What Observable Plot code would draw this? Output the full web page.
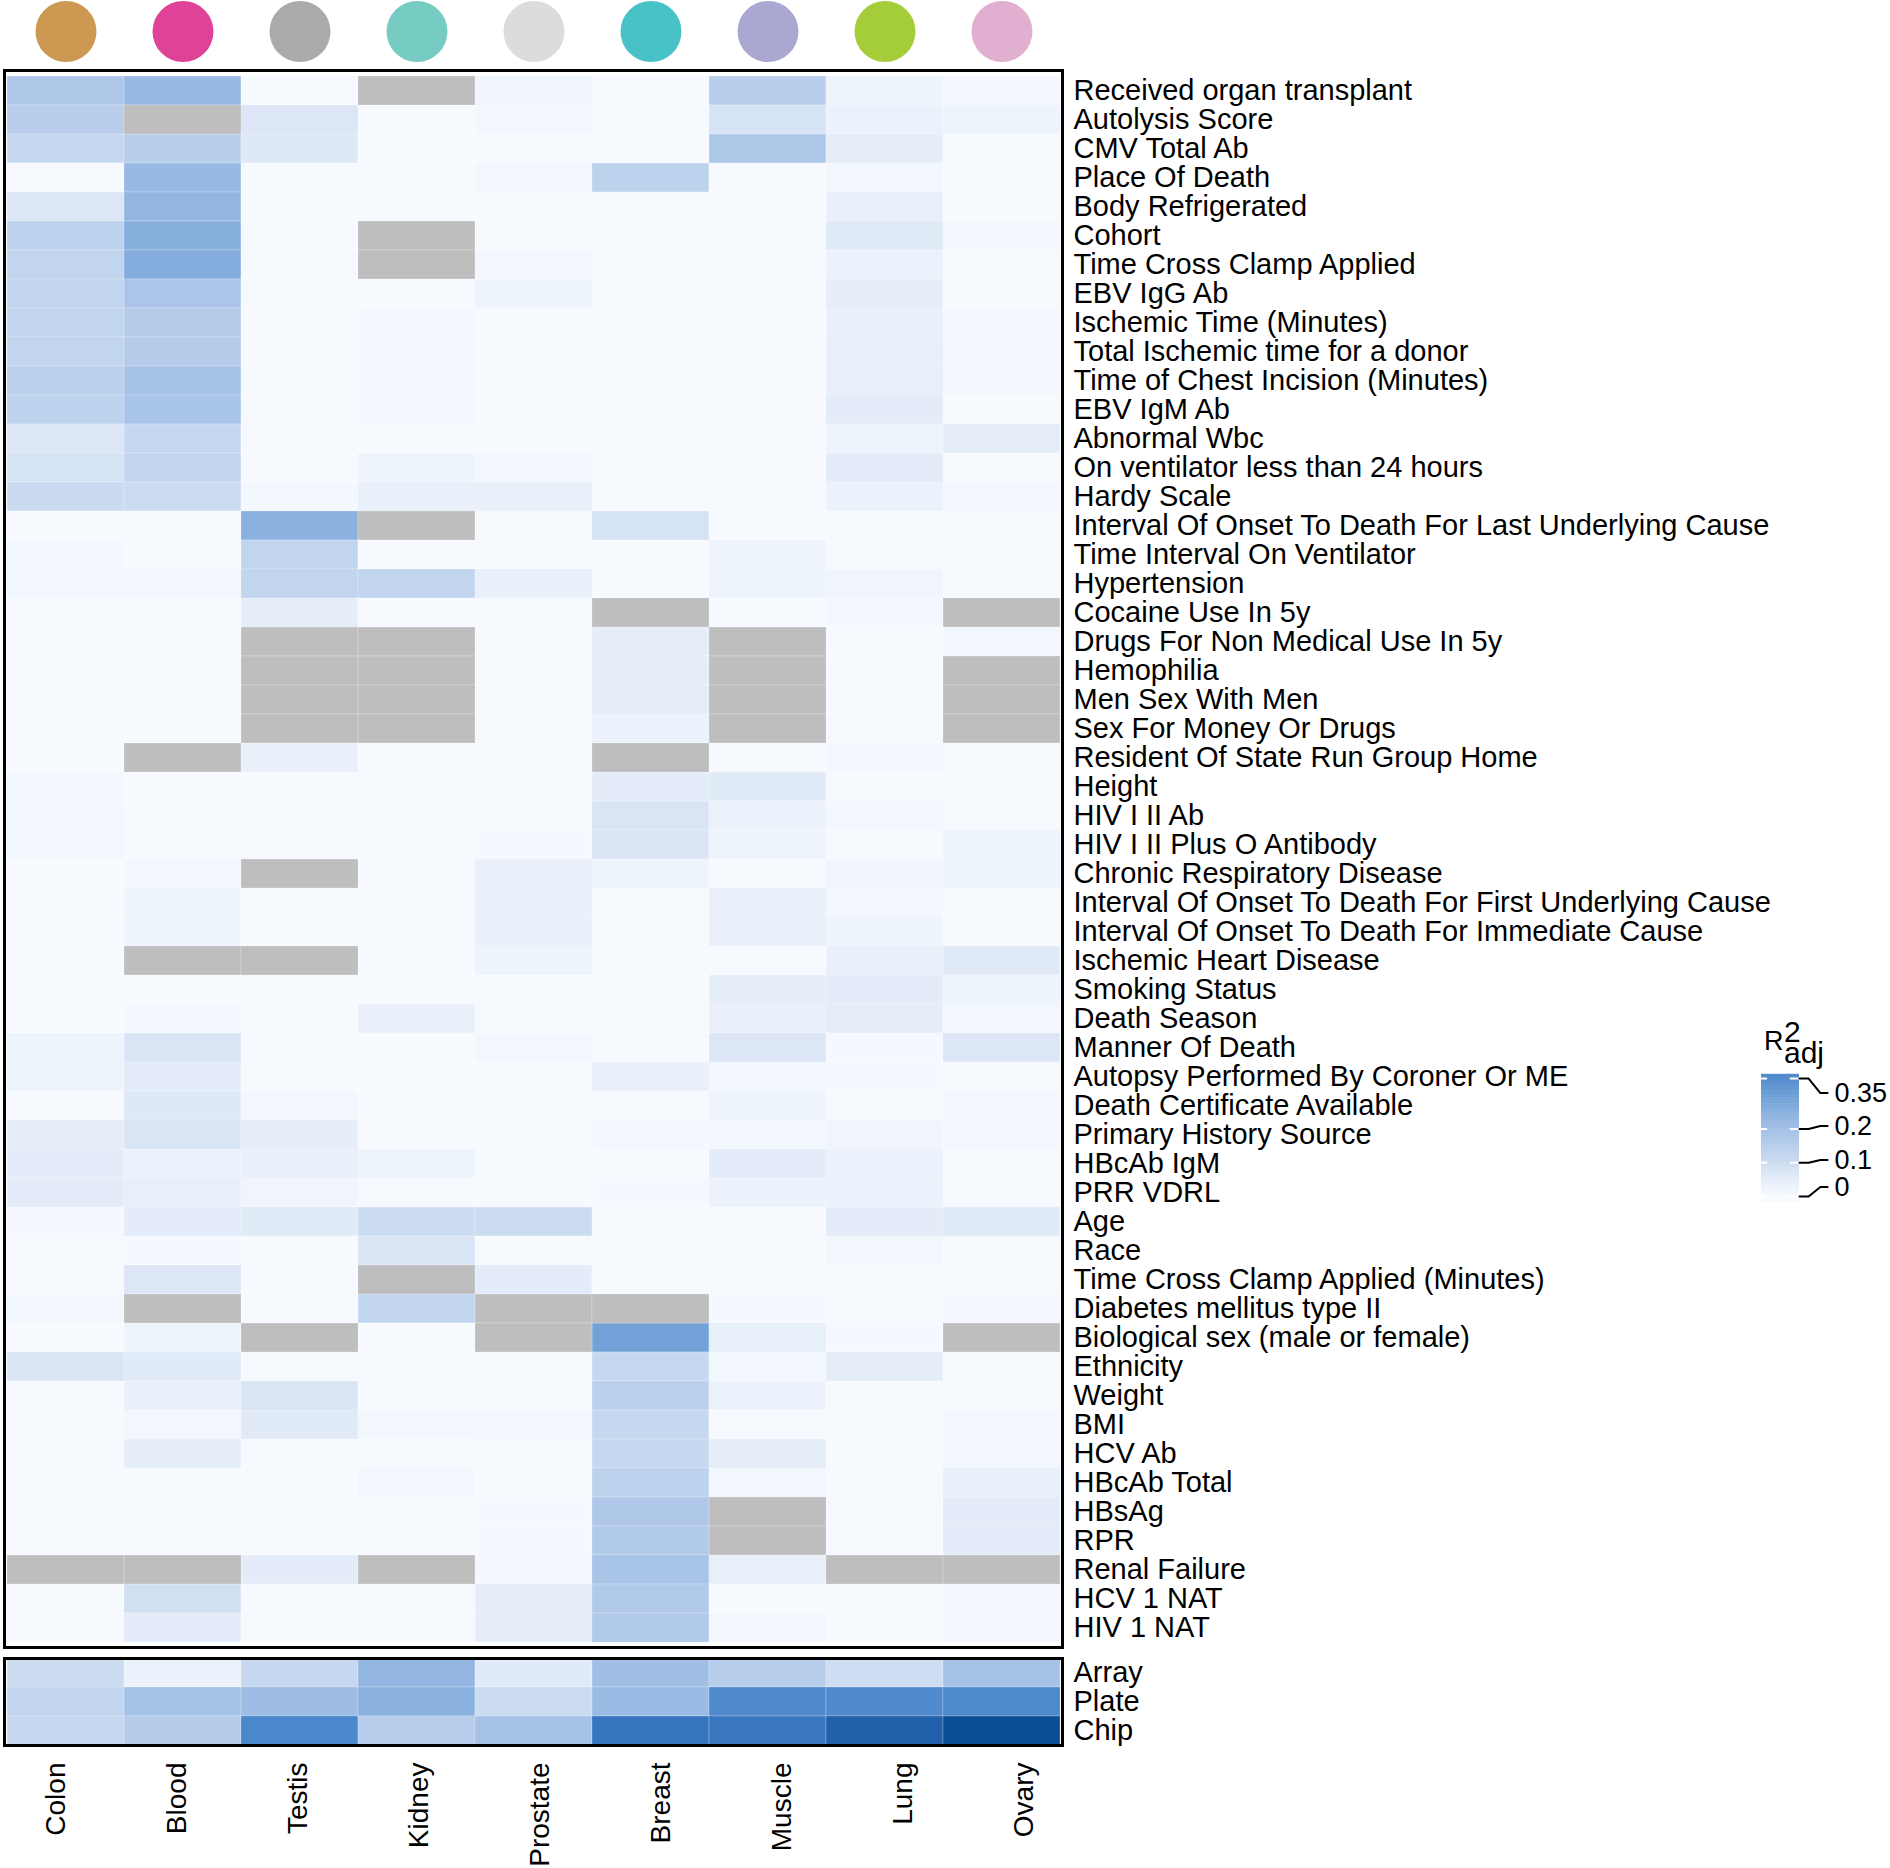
<!DOCTYPE html>
<html><head><meta charset="utf-8">
<script src="https://cdn.jsdelivr.net/npm/d3@7"></script>
<script src="https://cdn.jsdelivr.net/npm/@observablehq/plot@0.6"></script>
<style>
html,body{margin:0;padding:0;background:#fff;}
#chart{position:relative;width:1890px;height:1868px;font-family:"Liberation Sans",Arial,Helvetica,sans-serif;background:#fff;}
#chart > svg{position:absolute;}
</style></head><body><div id="chart"></div>
<script>
const tissues = ["Colon","Blood","Testis","Kidney","Prostate","Breast","Muscle","Lung","Ovary"];
const tissueColors = ["#CC9852","#DE4398","#AAAAAA","#76CBC3","#DCDCDC","#48C1C7","#ABA7D3","#A5CD39","#E1AFCF"];

const topRows = [
  "Received organ transplant","Autolysis Score","CMV Total Ab","Place Of Death","Body Refrigerated",
  "Cohort","Time Cross Clamp Applied","EBV IgG Ab","Ischemic Time (Minutes)","Total Ischemic time for a donor",
  "Time of Chest Incision (Minutes)","EBV IgM Ab","Abnormal Wbc","On ventilator less than 24 hours","Hardy Scale",
  "Interval Of Onset To Death For Last Underlying Cause","Time Interval On Ventilator","Hypertension","Cocaine Use In 5y",
  "Drugs For Non Medical Use In 5y","Hemophilia","Men Sex With Men","Sex For Money Or Drugs",
  "Resident Of State Run Group Home","Height","HIV I II Ab","HIV I II Plus O Antibody","Chronic Respiratory Disease",
  "Interval Of Onset To Death For First Underlying Cause","Interval Of Onset To Death For Immediate Cause",
  "Ischemic Heart Disease","Smoking Status","Death Season","Manner Of Death","Autopsy Performed By Coroner Or ME",
  "Death Certificate Available","Primary History Source","HBcAb IgM","PRR VDRL","Age","Race",
  "Time Cross Clamp Applied (Minutes)","Diabetes mellitus type II","Biological sex (male or female)","Ethnicity",
  "Weight","BMI","HCV Ab","HBcAb Total","HBsAg","RPR","Renal Failure","HCV 1 NAT","HIV 1 NAT"
];

const N = null; // not available (grey)
// columns: Colon, Blood, Testis, Kidney, Prostate, Breast, Muscle, Lung, Ovary
const topValues = [
  [0.15, 0.20, 0, N, 0.015, 0, 0.13, 0.02, 0.005],
  [0.13, N, 0.06, 0, 0.005, 0, 0.07, 0.025, 0.02],
  [0.10, 0.13, 0.055, 0, 0, 0, 0.155, 0.04, 0],
  [0, 0.20, 0, 0, 0.01, 0.12, 0, 0.01, 0],
  [0.06, 0.21, 0, 0, 0, 0, 0, 0.03, 0],
  [0.12, 0.23, 0, N, 0, 0, 0, 0.05, 0.01],
  [0.11, 0.235, 0, N, 0.008, 0, 0, 0.025, 0],
  [0.11, 0.16, 0, 0, 0.02, 0, 0, 0.04, 0],
  [0.11, 0.14, 0, 0.008, 0, 0, 0, 0.03, 0.008],
  [0.11, 0.14, 0, 0.008, 0, 0, 0, 0.035, 0.008],
  [0.125, 0.17, 0, 0.008, 0, 0, 0, 0.035, 0.01],
  [0.12, 0.165, 0, 0.008, 0, 0, 0, 0.045, 0],
  [0.06, 0.10, 0, 0, 0, 0, 0, 0.02, 0.04],
  [0.07, 0.105, 0, 0.02, 0.008, 0, 0, 0.045, 0],
  [0.095, 0.09, 0.008, 0.03, 0.03, 0, 0, 0.025, 0.005],
  [0, 0, 0.225, N, 0, 0.07, 0, 0, 0],
  [0.008, 0, 0.11, 0, 0, 0, 0.02, 0, 0],
  [0.008, 0.008, 0.11, 0.11, 0.03, 0, 0.02, 0.015, 0],
  [0, 0, 0.04, 0, 0, N, 0, 0.008, N],
  [0, 0, N, N, 0, 0.04, N, 0, 0.008],
  [0, 0, N, N, 0, 0.04, N, 0, N],
  [0, 0, N, N, 0, 0.04, N, 0, N],
  [0, 0, N, N, 0, 0.025, N, 0, N],
  [0, N, 0.03, 0, 0, N, 0, 0.006, 0],
  [0.006, 0, 0, 0, 0, 0.045, 0.05, 0, 0],
  [0.01, 0, 0, 0, 0, 0.065, 0.025, 0.008, 0],
  [0.01, 0, 0, 0, 0.003, 0.065, 0.02, 0, 0.02],
  [0, 0.008, N, 0, 0.03, 0.02, 0, 0.015, 0.02],
  [0, 0.02, 0, 0, 0.03, 0, 0.03, 0.008, 0],
  [0, 0.02, 0, 0, 0.03, 0, 0.03, 0.02, 0],
  [0, N, N, 0, 0.02, 0, 0, 0.03, 0.05],
  [0, 0, 0, 0, 0, 0, 0.04, 0.045, 0.02],
  [0, 0.006, 0, 0.03, 0, 0, 0.03, 0.04, 0.01],
  [0.02, 0.065, 0, 0, 0.01, 0, 0.06, 0.003, 0.06],
  [0.02, 0.045, 0, 0, 0, 0.03, 0.01, 0.003, 0],
  [0, 0.055, 0.01, 0, 0, 0, 0.02, 0, 0.006],
  [0.04, 0.065, 0.04, 0, 0, 0.006, 0.01, 0.015, 0.01],
  [0.045, 0.025, 0.03, 0.02, 0, 0, 0.045, 0.025, 0],
  [0.045, 0.035, 0.015, 0, 0, 0.003, 0.025, 0.025, 0],
  [0.003, 0.045, 0.05, 0.09, 0.09, 0, 0, 0.045, 0.05],
  [0, 0.003, 0, 0.065, 0, 0, 0, 0.01, 0],
  [0, 0.06, 0, N, 0.045, 0, 0, 0, 0],
  [0.01, N, 0, 0.11, N, N, 0.003, 0, 0.01],
  [0, 0.02, N, 0, N, 0.265, 0.035, 0.003, N],
  [0.065, 0.05, 0, 0, 0, 0.10, 0.01, 0.04, 0],
  [0, 0.03, 0.065, 0, 0, 0.125, 0.025, 0, 0],
  [0, 0.01, 0.05, 0.01, 0.008, 0.10, 0, 0, 0.005],
  [0, 0.04, 0, 0, 0, 0.10, 0.04, 0, 0.01],
  [0, 0, 0, 0.01, 0, 0.12, 0.01, 0, 0.035],
  [0, 0, 0, 0, 0.003, 0.15, N, 0, 0.045],
  [0, 0, 0, 0, 0.003, 0.145, N, 0, 0.045],
  [N, N, 0.045, N, 0.008, 0.165, 0.035, N, N],
  [0, 0.08, 0, 0, 0.04, 0.145, 0, 0, 0.01],
  [0, 0.045, 0, 0, 0.04, 0.145, 0.01, 0, 0.01]
];

const bottomRows = ["Array","Plate","Chip"];
const bottomValues = [
  [0.09, 0.025, 0.10, 0.21, 0.05, 0.18, 0.135, 0.085, 0.175],
  [0.11, 0.17, 0.19, 0.225, 0.09, 0.195, 0.32, 0.32, 0.325],
  [0.10, 0.14, 0.33, 0.135, 0.17, 0.38, 0.37, 0.45, 0.55]
];

const legendTicks = [0, 0.1, 0.2, 0.35];
const legendLabelPos = [0.028, 0.108, 0.209, 0.307];

const colorDomain = [0, 0.05, 0.1, 0.15, 0.2, 0.25, 0.3, 0.35, 0.45, 0.55];
const colorRange = ["#F6FAFF","#E1EAF7","#C6D8F0","#AFC8E9","#98B9E3","#7CA8DB","#5D94D1","#3F7EC7","#2160AB","#0A4E98"];
const NA_COLOR = "#BEBEBE";
const FONT = "'Liberation Sans', Arial, Helvetica, sans-serif";

const color = {type: "linear", domain: colorDomain, range: colorRange, interpolate: "rgb", clamp: true};

function toCells(rows, values) {
  return rows.flatMap((r, i) => tissues.map((t, j) => ({row: r, tissue: t, v: values[i][j]})));
}
const topCells = toCells(topRows, topValues);
const bottomCells = toCells(bottomRows, bottomValues);
const cellStyle = {x: "tissue", y: "row", inset: 0, stroke: "white", strokeWidth: 0.5, strokeOpacity: 0.45};
const baseStyle = {fontFamily: FONT, color: "black", background: "transparent", overflow: "visible"};

const chart = document.getElementById("chart");
function place(node, left, top) { node.style.left = left + "px"; node.style.top = top + "px"; chart.appendChild(node); }

const topPlot = Plot.plot({
  width: 1890, height: 1652,
  marginLeft: 4, marginRight: 828, marginTop: 70, marginBottom: 5,
  style: baseStyle,
  x: {type: "band", domain: tissues, padding: 0, axis: null},
  y: {type: "band", domain: topRows, padding: 0},
  color,
  marks: [
    Plot.cell(topCells.filter(d => d.v != null), {...cellStyle, fill: "v"}),
    Plot.cell(topCells.filter(d => d.v == null), {...cellStyle, fill: NA_COLOR}),
    Plot.frame({stroke: "black", strokeWidth: 3}),
    ...tissues.map((t, i) => Plot.dot([t], {x: d => d, r: 30.5, fill: tissueColors[i], frameAnchor: "top", dy: -39})),
    Plot.axisY({anchor: "right", tickSize: 0, tickPadding: 11, fontSize: 29, label: null, fill: "black"})
  ]
});
place(topPlot, 0, 0);

const bottomPlot = Plot.plot({
  width: 1890, height: 96,
  marginLeft: 4, marginRight: 828, marginTop: 6, marginBottom: 3,
  style: baseStyle,
  x: {type: "band", domain: tissues, padding: 0, axis: null},
  y: {type: "band", domain: bottomRows, padding: 0},
  color,
  marks: [
    Plot.cell(bottomCells, {...cellStyle, fill: "v"}),
    Plot.frame({stroke: "black", strokeWidth: 3}),
    Plot.axisY({anchor: "right", tickSize: 0, tickPadding: 11, fontSize: 29, label: null, fill: "black"})
  ]
});
place(bottomPlot, 0, 1652);

// column labels (slightly wider spacing than the columns, as in the reference)
const labelPlot = Plot.plot({
  width: 1890, height: 120,
  marginLeft: 43, marginRight: 876, marginTop: 16, marginBottom: 0,
  style: baseStyle,
  x: {type: "point", domain: tissues, padding: 0, axis: null},
  marks: [
    Plot.text(tissues, {x: d => d, text: d => d, rotate: -90, textAnchor: "end", frameAnchor: "top", fontSize: 28, fill: "black"})
  ]
});
place(labelPlot, 0, 1746);

// legend ramp
const rampSteps = d3.range(-0.018, 0.362, 0.002);
const connectorPts = legendTicks.flatMap((t, i) => [
  {k: i, x: 1.0, y: t},
  {k: i, x: 1.24, y: t},
  {k: i, x: 1.55, y: legendLabelPos[i]},
  {k: i, x: 1.74, y: legendLabelPos[i]}
]);
const legendPlot = Plot.plot({
  width: 150, height: 160,
  marginTop: 14, marginBottom: 18, marginLeft: 21, marginRight: 91,
  style: baseStyle,
  x: {domain: [0, 1], axis: null},
  y: {domain: [-0.018, 0.362], axis: null},
  color,
  marks: [
    Plot.rect(rampSteps, {x1: 0, x2: 1, y1: d => d, y2: d => d + 0.0026, fill: d => d}),
    Plot.ruleY(legendTicks, {x1: 0, x2: 0.16, stroke: "white", strokeWidth: 2}),
    Plot.ruleY(legendTicks, {x1: 0.76, x2: 1, stroke: "white", strokeWidth: 2}),
    Plot.line(connectorPts, {x: "x", y: "y", z: "k", stroke: "black", strokeWidth: 2, curve: "linear"}),
    Plot.text(legendTicks, {x: 1.92, y: (d, i) => legendLabelPos[i], text: d => String(d), textAnchor: "start", fontSize: 27, fill: "black"})
  ]
});
place(legendPlot, 1740, 1060);

// legend title R²adj (one text element, stacked super/subscript)
const title = d3.create("svg").attr("width", 110).attr("height", 75)
  .attr("font-family", FONT).attr("fill", "black");
const tt = title.append("text").attr("x", 19).attr("y", 40).attr("font-size", 27);
tt.append("tspan").text("R");
tt.append("tspan").attr("x", 39).attr("y", 32).attr("font-size", 30).text("2");
tt.append("tspan").attr("x", 39).attr("y", 53).attr("font-size", 30).text("adj");
place(title.node(), 1745, 1010);
</script></body></html>
